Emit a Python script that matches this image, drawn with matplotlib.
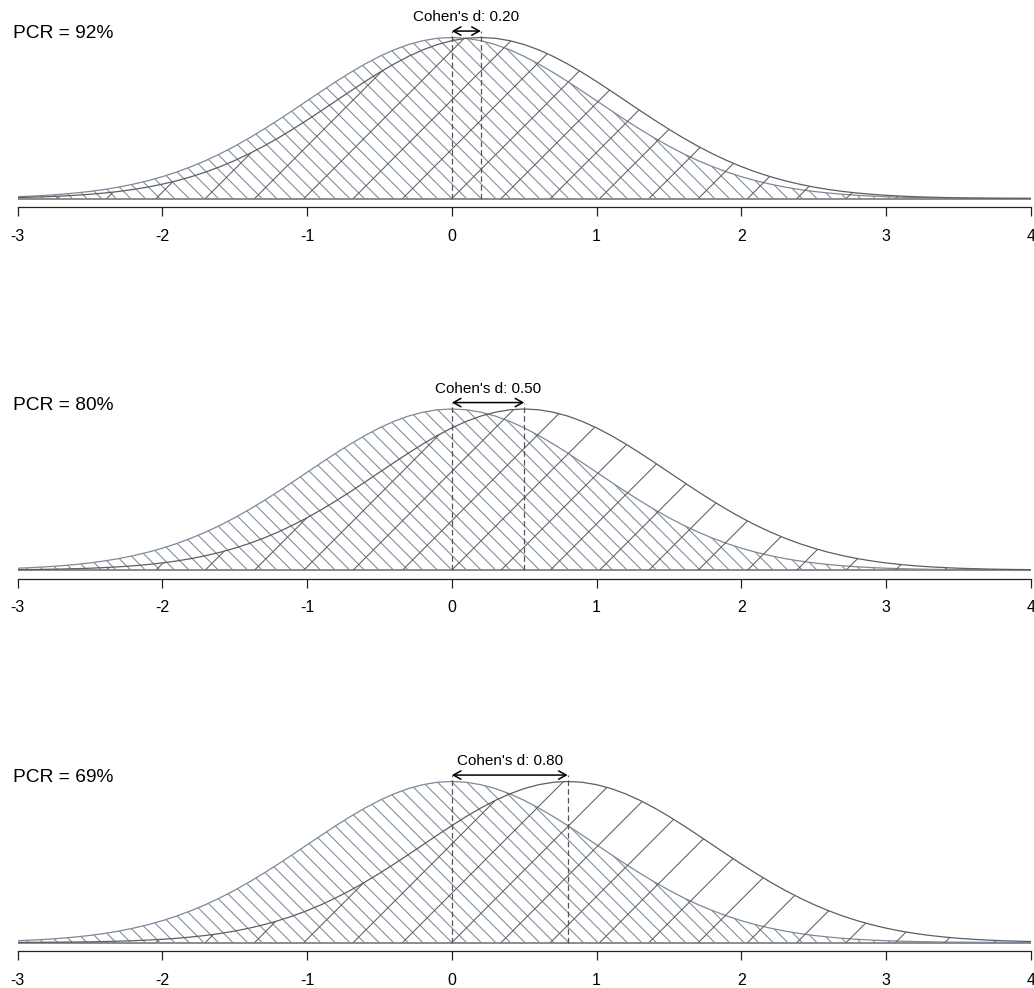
import numpy as np
import matplotlib.pyplot as plt
from matplotlib.patches import Polygon
from matplotlib.collections import LineCollection

plt.rcParams['font.family'] = ['Liberation Sans', 'DejaVu Sans']

# density values, x from -3 to 4 in steps of 0.1
x_grid = [-3.0, -2.9, -2.8, -2.7, -2.6, -2.5, -2.4, -2.3, -2.2, -2.1,
          -2.0, -1.9, -1.8, -1.7, -1.6, -1.5, -1.4, -1.3, -1.2, -1.1,
          -1.0, -0.9, -0.8, -0.7, -0.6, -0.5, -0.4, -0.3, -0.2, -0.1,
          0.0, 0.1, 0.2, 0.3, 0.4, 0.5, 0.6, 0.7, 0.8, 0.9,
          1.0, 1.1, 1.2, 1.3, 1.4, 1.5, 1.6, 1.7, 1.8, 1.9,
          2.0, 2.1, 2.2, 2.3, 2.4, 2.5, 2.6, 2.7, 2.8, 2.9,
          3.0, 3.1, 3.2, 3.3, 3.4, 3.5, 3.6, 3.7, 3.8, 3.9,
          4.0]

control = [0.0044, 0.0060, 0.0079, 0.0104, 0.0136, 0.0175, 0.0224, 0.0283, 0.0355, 0.0440,
           0.0540, 0.0656, 0.0790, 0.0940, 0.1109, 0.1295, 0.1497, 0.1714, 0.1942, 0.2179,
           0.2420, 0.2661, 0.2897, 0.3123, 0.3332, 0.3521, 0.3683, 0.3814, 0.3910, 0.3970,
           0.3989, 0.3970, 0.3910, 0.3814, 0.3683, 0.3521, 0.3332, 0.3123, 0.2897, 0.2661,
           0.2420, 0.2179, 0.1942, 0.1714, 0.1497, 0.1295, 0.1109, 0.0940, 0.0790, 0.0656,
           0.0540, 0.0440, 0.0355, 0.0283, 0.0224, 0.0175, 0.0136, 0.0104, 0.0079, 0.0060,
           0.0044, 0.0033, 0.0024, 0.0017, 0.0012, 0.0009, 0.0006, 0.0004, 0.0003, 0.0002,
           0.0001]

treat_02 = [0.0024, 0.0033, 0.0044, 0.0060, 0.0079, 0.0104, 0.0136, 0.0175, 0.0224, 0.0283,
            0.0355, 0.0440, 0.0540, 0.0656, 0.0790, 0.0940, 0.1109, 0.1295, 0.1497, 0.1714,
            0.1942, 0.2179, 0.2420, 0.2661, 0.2897, 0.3123, 0.3332, 0.3521, 0.3683, 0.3814,
            0.3910, 0.3970, 0.3989, 0.3970, 0.3910, 0.3814, 0.3683, 0.3521, 0.3332, 0.3123,
            0.2897, 0.2661, 0.2420, 0.2179, 0.1942, 0.1714, 0.1497, 0.1295, 0.1109, 0.0940,
            0.0790, 0.0656, 0.0540, 0.0440, 0.0355, 0.0283, 0.0224, 0.0175, 0.0136, 0.0104,
            0.0079, 0.0060, 0.0044, 0.0033, 0.0024, 0.0017, 0.0012, 0.0009, 0.0006, 0.0004,
            0.0003]

treat_05 = [0.0009, 0.0012, 0.0017, 0.0024, 0.0033, 0.0044, 0.0060, 0.0079, 0.0104, 0.0136,
            0.0175, 0.0224, 0.0283, 0.0355, 0.0440, 0.0540, 0.0656, 0.0790, 0.0940, 0.1109,
            0.1295, 0.1497, 0.1714, 0.1942, 0.2179, 0.2420, 0.2661, 0.2897, 0.3123, 0.3332,
            0.3521, 0.3683, 0.3814, 0.3910, 0.3970, 0.3989, 0.3970, 0.3910, 0.3814, 0.3683,
            0.3521, 0.3332, 0.3123, 0.2897, 0.2661, 0.2420, 0.2179, 0.1942, 0.1714, 0.1497,
            0.1295, 0.1109, 0.0940, 0.0790, 0.0656, 0.0540, 0.0440, 0.0355, 0.0283, 0.0224,
            0.0175, 0.0136, 0.0104, 0.0079, 0.0060, 0.0044, 0.0033, 0.0024, 0.0017, 0.0012,
            0.0009]

treat_08 = [0.0003, 0.0004, 0.0006, 0.0009, 0.0012, 0.0017, 0.0024, 0.0033, 0.0044, 0.0060,
            0.0079, 0.0104, 0.0136, 0.0175, 0.0224, 0.0283, 0.0355, 0.0440, 0.0540, 0.0656,
            0.0790, 0.0940, 0.1109, 0.1295, 0.1497, 0.1714, 0.1942, 0.2179, 0.2420, 0.2661,
            0.2897, 0.3123, 0.3332, 0.3521, 0.3683, 0.3814, 0.3910, 0.3970, 0.3989, 0.3970,
            0.3910, 0.3814, 0.3683, 0.3521, 0.3332, 0.3123, 0.2897, 0.2661, 0.2420, 0.2179,
            0.1942, 0.1714, 0.1497, 0.1295, 0.1109, 0.0940, 0.0790, 0.0656, 0.0540, 0.0440,
            0.0355, 0.0283, 0.0224, 0.0175, 0.0136, 0.0104, 0.0079, 0.0060, 0.0044, 0.0033,
            0.0024]

cohens_d = [0.20, 0.50, 0.80]
pcr = [92, 80, 69]
treatments = [treat_02, treat_05, treat_08]
xticks = [-3, -2, -1, 0, 1, 2, 3, 4]

slate = '#7b8999'
dark = '#5e5e5e'

W, H = 1034, 988
fig = plt.figure(figsize=(W / 100, H / 100), dpi=100)

x_left, x_right = 17.5, 1031
baselines = [198.5, 570, 942.5]
peak_px = 161
axis_gap = 8.5
ax_h = 200
ymax = max(control)
sx = (x_right - x_left) / 7.0
sy = peak_px / ymax


def hatch(ax, poly, col, direction, spacing_px, lw):
    # 45 degree lines in pixel space, clipped to the polygon
    step = spacing_px / sx
    x0s = np.arange(-80, 120) * step
    y0, y1 = -0.05, 0.55
    segs = [[(x0 + direction * y0 * sy / sx, y0), (x0 + direction * y1 * sy / sx, y1)] for x0 in x0s]
    lc = LineCollection(segs, colors=col, linewidths=lw)
    ax.add_collection(lc)
    lc.set_clip_path(poly)


for i in range(3):
    base = baselines[i]
    bottom_px = base + axis_gap
    ax = fig.add_axes([x_left / W, 1 - bottom_px / H, (x_right - x_left) / W, ax_h / H])
    ax.set_xlim(-3, 4)
    ax.set_ylim(-axis_gap / sy, (ax_h - axis_gap) / sy)
    ax.patch.set_alpha(0)
    for s in ['top', 'right', 'left']:
        ax.spines[s].set_visible(False)
    ax.spines['bottom'].set_color('#222222')
    ax.spines['bottom'].set_linewidth(0.9)
    ax.set_yticks([])
    ax.set_xticks(xticks)
    ax.set_xticklabels([str(t) for t in xticks])
    ax.tick_params(axis='x', length=6.5, width=0.9, color='#222222', pad=9, labelsize=11.5)

    d = cohens_d[i]
    ax.plot([-3, 4], [0, 0], color='#8c8c8c', lw=1.4)
    for yvals, col, direction, spacing in [(control, slate, -1, 14.6),
                                           (treatments[i], dark, 1, 49.3)]:
        verts = [(x_grid[0], 0)] + list(zip(x_grid, yvals)) + [(x_grid[-1], 0)]
        poly = Polygon(verts, closed=True, fill=False, edgecolor='none')
        ax.add_patch(poly)
        hatch(ax, poly, col, direction, spacing, 0.75)
        ax.plot(x_grid, yvals, color=col, lw=0.9)

    arrow_y = ymax * 1.04
    for xv in [0, d]:
        ax.plot([xv, xv], [0, arrow_y], color='#555555', lw=0.9, dashes=(4.5, 2.5))
    ax.annotate('', xy=(d, arrow_y), xytext=(0, arrow_y),
                arrowprops=dict(arrowstyle='<->,head_length=0.45,head_width=0.25',
                                color='black', lw=1.1, shrinkA=0, shrinkB=0,
                                mutation_scale=12))
    ax.text(d / 2, ymax * 1.10, "Cohen's d: %.2f" % d, ha='center', va='baseline',
            fontsize=11, clip_on=False)
    ax.text(-3.033, ymax * 0.994, 'PCR = %d%%' % pcr[i], ha='left', va='baseline',
            fontsize=13.8, clip_on=False)

fig.savefig('out.png', dpi=100)
